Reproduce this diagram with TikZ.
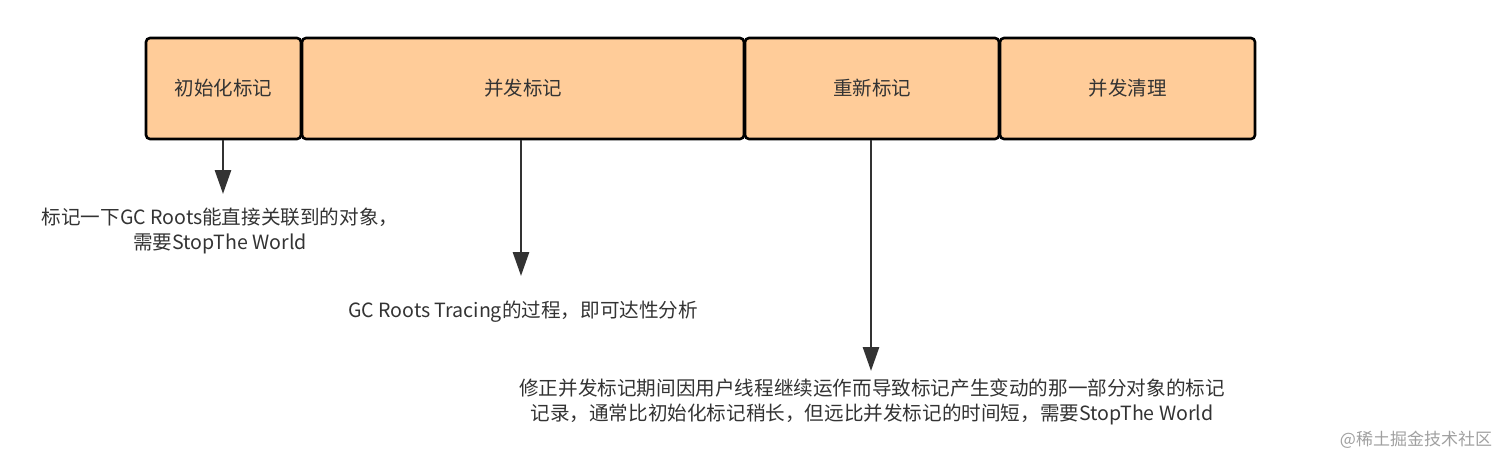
\documentclass[tikz,border=0pt]{standalone}
\usepackage{fontspec}
\setmainfont{Noto Sans CJK SC}
\usetikzlibrary{arrows.meta}
\definecolor{boxfill}{HTML}{FFCC99}
\definecolor{ink}{HTML}{333333}
\definecolor{wm}{HTML}{A0A0A0}
\begin{document}
\begin{tikzpicture}[x=1pt,y=-1pt,
  phase/.style={draw=black,line width=2.6pt,fill=boxfill,rounded corners=4pt,minimum height=101pt,inner sep=0pt,font=\fontsize{19.5}{22}\selectfont,text=ink},
  conn/.style={draw=ink,line width=2.8pt,-{Triangle[length=24pt,width=16pt]}},
  note/.style={font=\fontsize{19.6}{25}\selectfont,text=ink,align=center,inner sep=0pt}]
\useasboundingbox (0,0) rectangle (1512,467);
\node[phase,minimum width=155pt] (b1) at (223.5,88.5) {初始化标记};
\node[phase,minimum width=442pt] (b2) at (523,88.5) {并发标记};
\node[phase,minimum width=254pt] (b3) at (872,88.5) {重新标记};
\node[phase,minimum width=255pt] (b4) at (1127.5,88.5) {并发清理};
\coordinate (t1) at (223,194);
\coordinate (t2) at (521,276);
\coordinate (t3) at (871,371);
\draw[conn] (b1.south -| t1) -- (t1);
\draw[conn] (b2.south -| t2) -- (t2);
\draw[conn] (b3.south -| t3) -- (t3);
\node[note] (n1) at (220,231) {标记一下GC Roots能直接关联到的对象，\\需要StopThe World};
\node[note] (n2) at (523,312) {GC Roots Tracing的过程，即可达性分析};
\node[note] (n3) at (872,402) {修正并发标记期间因用户线程继续运作而导致标记产生变动的那一部分对象的标记\\记录，通常比初始化标记稍长，但远比并发标记的时间短，需要StopThe World};
\node[font=\fontsize{17}{20}\selectfont,text=wm,inner sep=0pt] (wm) at (1416,440) {@稀土掘金技术社区};
\end{tikzpicture}
\end{document}
